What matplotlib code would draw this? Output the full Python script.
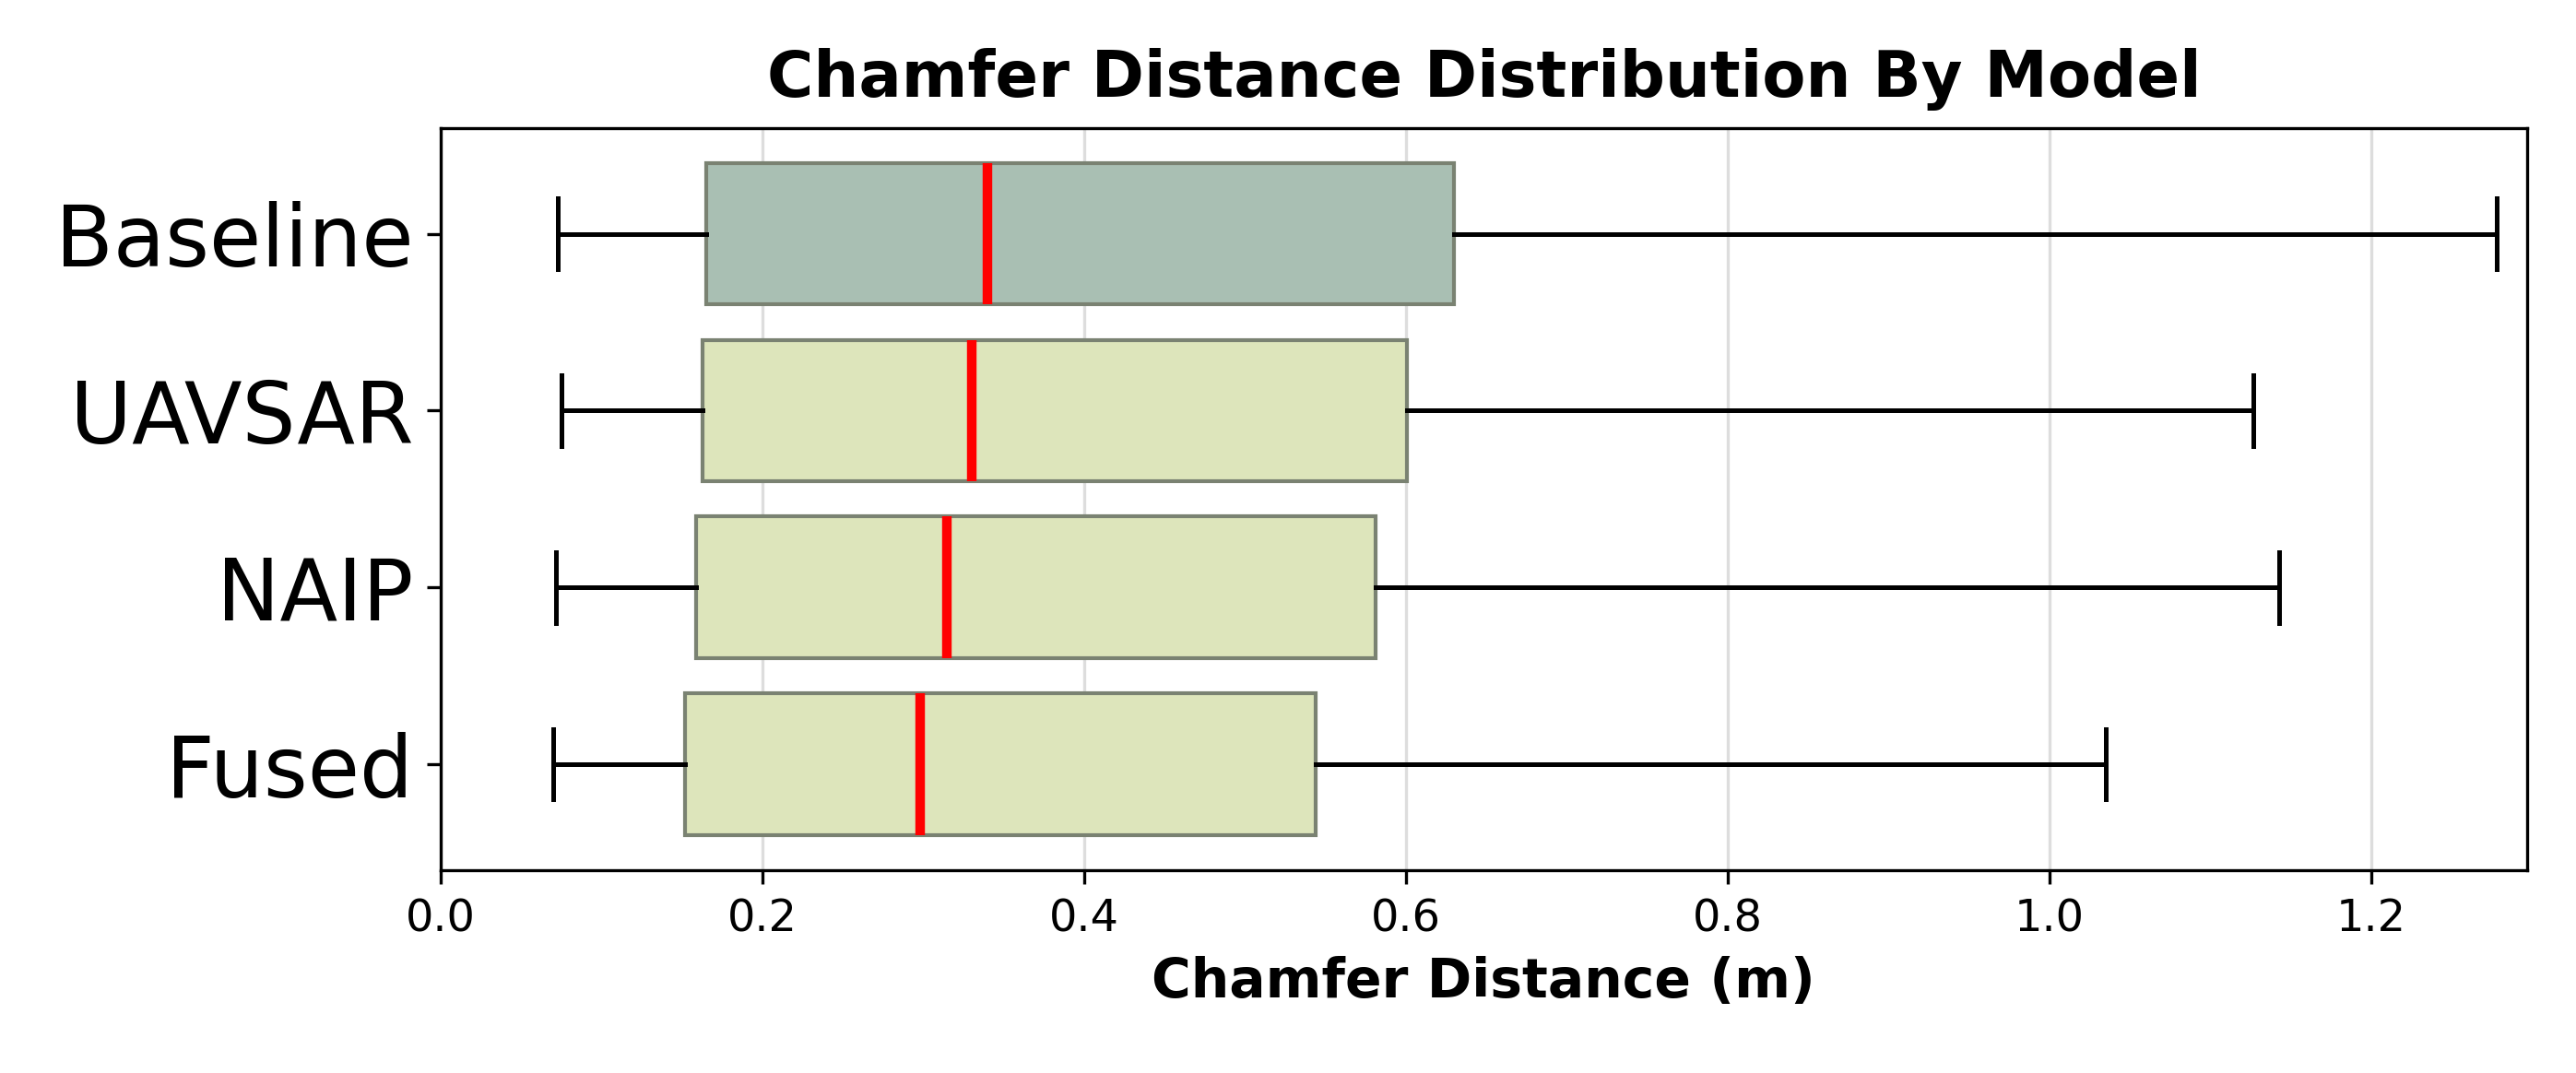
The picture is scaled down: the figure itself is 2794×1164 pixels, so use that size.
import matplotlib
matplotlib.use("Agg")
import matplotlib.pyplot as plt

models = ["Baseline", "UAVSAR", "NAIP", "Fused"]
whislo = [0.073, 0.075, 0.072, 0.070]
q1 = [0.165, 0.163, 0.159, 0.152]
med = [0.340, 0.330, 0.315, 0.298]
q3 = [0.630, 0.601, 0.581, 0.544]
whishi = [1.278, 1.127, 1.143, 1.035]
colors = ["#a9bfb3", "#dde5bb", "#dde5bb", "#dde5bb"]

fig = plt.figure(figsize=(2794/300, 1164/300), dpi=300)
ax = fig.add_axes([0.171, 0.189, 0.81, 0.692])

stats = []
for i, m in enumerate(models):
    stats.append(dict(label=m, whislo=whislo[i], q1=q1[i], med=med[i], q3=q3[i], whishi=whishi[i], fliers=[]))
pos = list(range(len(models), 0, -1))
bp = ax.bxp(stats, positions=pos, vert=False, widths=0.8, patch_artist=True,
            showfliers=False, capwidths=0.4,
            boxprops=dict(edgecolor="#7a8272", linewidth=1.0),
            medianprops=dict(color="red", linewidth=2.5),
            whiskerprops=dict(color="black", linewidth=1.2),
            capprops=dict(color="black", linewidth=1.2))
for b, c in zip(bp["boxes"], colors):
    b.set_facecolor(c)
ax.set_xlim(0, 1.297)
ax.set_ylim(0.4, len(models) + 0.6)
ax.set_xticks([0, 0.2, 0.4, 0.6, 0.8, 1.0, 1.2])
ax.tick_params(axis="x", labelsize=11.5)
ax.tick_params(axis="y", labelsize=22)
ax.grid(axis="x", color="#dddddd", linewidth=0.8)
ax.set_axisbelow(True)
ax.set_xlabel("Chamfer Distance (m)", fontsize=14, fontweight="bold")
ax.set_title("Chamfer Distance Distribution By Model", fontsize=16.5, fontweight="bold", pad=8)
fig.savefig("out.png", dpi=300)
